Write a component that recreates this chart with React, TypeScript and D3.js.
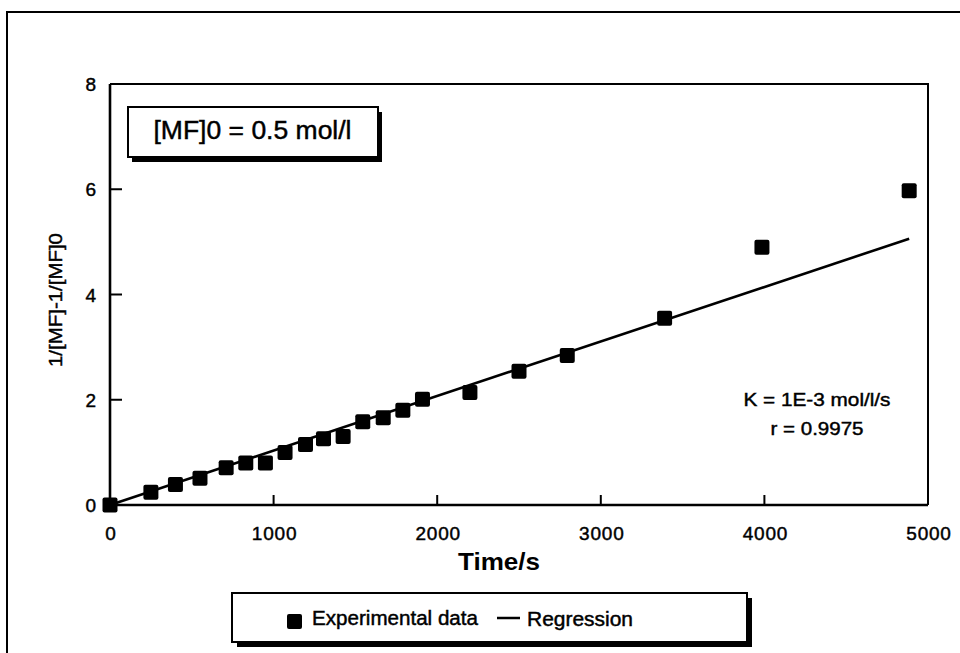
import React, { Component } from "react";
import * as d3 from "d3";

// experimental points
const times = [0, 250, 400, 550, 710, 830, 950, 1070, 1195, 1305, 1425, 1545, 1670, 1790, 1910, 2200, 2500, 2795, 3390, 3985, 4885];
const values = [0, 0.24, 0.39, 0.51, 0.71, 0.8, 0.8, 1.0, 1.15, 1.26, 1.3, 1.58, 1.66, 1.8, 2.01, 2.14, 2.54, 2.84, 3.55, 4.9, 5.97];

// regression line end points
const regTimes = [0, 4885];
const regValues = [0, 5.06];

const xTicks = [0, 1000, 2000, 3000, 4000, 5000];
const yTicks = [0, 2, 4, 6, 8];

const xTitle = "Time/s";
const yTitle = "1/[MF]-1/[MF]0";
const boxLabel = "[MF]0 = 0.5 mol/l";
const statLines = ["K = 1E-3 mol/l/s", "r = 0.9975"];
const legendLabels = ["Experimental data", "Regression"];

const width = 960;
const height = 653;
const plot = { left: 110, right: 928, top: 84, bottom: 505 };
const font = "'Liberation Sans', Arial, Helvetica, sans-serif";

// scanned text looks a bit heavier than plain regular weight
const ink = { stroke: "#000", strokeWidth: 0.45 };

class App extends Component {
  render() {
    // create x scale
    const xScale = d3.scaleLinear().domain([0, 5000]).range([plot.left, plot.right]);

    // create y scale
    const yScale = d3.scaleLinear().domain([0, 8]).range([plot.bottom, plot.top]);

    const points = times.map((t, i) => ({ x: xScale(t), y: yScale(values[i]) }));

    const line = d3
      .line<number>()
      .x(d => xScale(regTimes[d]))
      .y(d => yScale(regValues[d]));

    const sq = 15;

    return (
      <svg
        width={width}
        height={height}
        style={{ position: "absolute", left: 0, top: 0, background: "#fff" }}
        fontFamily={font}
      >
        {/* outer frame */}
        <path d={`M7,${height + 5} L7,12 L${width + 5},12`} fill="none" stroke="#000" strokeWidth={2} />

        {/* plot frame */}
        <path
          d={`M${plot.left},${plot.top} L${plot.right},${plot.top} L${plot.right},${plot.bottom}`}
          fill="none"
          stroke="#000"
          strokeWidth={2}
        />
        <path
          d={`M${plot.left},${plot.top} L${plot.left},${plot.bottom} L${plot.right},${plot.bottom}`}
          fill="none"
          stroke="#000"
          strokeWidth={2.6}
        />

        {/* y ticks */}
        <g>
          {yTicks.map(t => (
            <g key={"y" + t}>
              {t > 0 && t < 8 && (
                <line x1={plot.left} x2={plot.left + 12} y1={yScale(t)} y2={yScale(t)} stroke="#000" strokeWidth={2} />
              )}
              <text x={96} y={yScale(t) + 7} textAnchor="end" fontSize={19} {...ink}>
                {t}
              </text>
            </g>
          ))}
        </g>

        {/* x ticks */}
        <g>
          {xTicks.map(t => (
            <g key={"x" + t}>
              {t > 0 && t < 5000 && (
                <line x1={xScale(t)} x2={xScale(t)} y1={plot.bottom} y2={plot.bottom - 10} stroke="#000" strokeWidth={2} />
              )}
              <text x={xScale(t) + 1} y={540} textAnchor="middle" fontSize={19} letterSpacing={0.8} {...ink}>
                {t}
              </text>
            </g>
          ))}
        </g>

        {/* axis titles */}
        <text x={499} y={570} textAnchor="middle" fontSize={24} fontWeight="bold" textLength={82} lengthAdjust="spacingAndGlyphs">
          {xTitle}
        </text>
        <text
          transform="translate(62,300) rotate(-90)"
          textAnchor="middle"
          fontSize={19}
          textLength={134}
          lengthAdjust="spacingAndGlyphs"
          {...ink}
        >
          {yTitle}
        </text>

        {/* regression */}
        <path d={line([0, 1]) || ""} fill="none" stroke="#000" strokeWidth={2.6} />

        {/* data points */}
        <g>
          {points.map((p, i) => (
            <rect key={i} x={p.x - sq / 2} y={p.y - sq / 2} width={sq} height={sq} rx={2} fill="#000" />
          ))}
        </g>

        {/* concentration box */}
        <rect x={132} y={112} width={250} height={50} fill="#000" />
        <rect x={128} y={107} width={250} height={50} fill="#fff" stroke="#000" strokeWidth={2} />
        <text x={252.5} y={139} textAnchor="middle" fontSize={25} textLength={198} lengthAdjust="spacingAndGlyphs" {...ink}>
          {boxLabel}
        </text>

        {/* fit statistics */}
        <text x={817} y={406} textAnchor="middle" fontSize={19} textLength={147} lengthAdjust="spacingAndGlyphs" {...ink}>
          {statLines[0]}
        </text>
        <text x={817} y={435} textAnchor="middle" fontSize={19} textLength={93} lengthAdjust="spacingAndGlyphs" {...ink}>
          {statLines[1]}
        </text>

        {/* legend */}
        <rect x={237} y={598} width={515} height={49} fill="#000" />
        <rect x={232} y={593} width={515} height={49} fill="#fff" stroke="#000" strokeWidth={2} />
        <rect x={287} y={614} width={sq} height={sq} rx={2} fill="#000" />
        <text x={312} y={625} fontSize={20} textLength={166} lengthAdjust="spacingAndGlyphs" {...ink}>
          {legendLabels[0]}
        </text>
        <line x1={497} x2={520} y1={618} y2={618} stroke="#000" strokeWidth={2.5} />
        <text x={527} y={626} fontSize={20} textLength={106} lengthAdjust="spacingAndGlyphs" {...ink}>
          {legendLabels[1]}
        </text>
      </svg>
    );
  }
}

export default App;
